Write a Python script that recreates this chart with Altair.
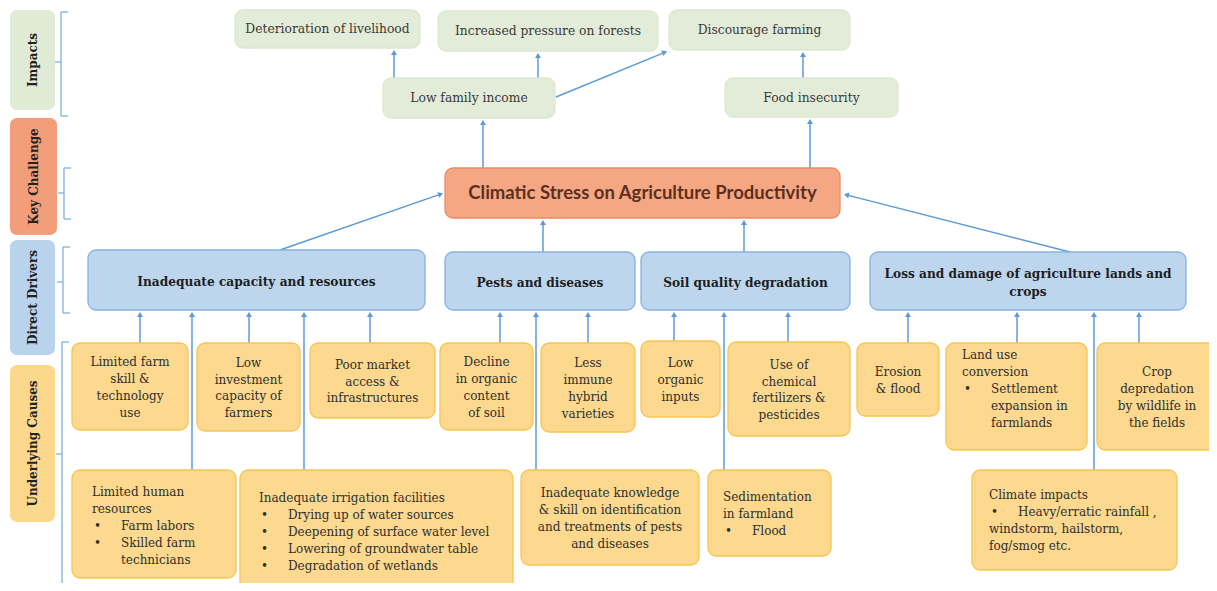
import math
import altair as alt
import pandas as pd

# ---------------- content ----------------
side_labels = ["Impacts", "Key Challenge", "Direct Drivers", "Underlying Causes"]
side_groups = ["impact", "challenge", "driver", "cause"]

node_texts = [
    "Deterioration of livelihood",
    "Increased pressure on forests",
    "Discourage farming",
    "Low family income",
    "Food insecurity",
    "Climatic Stress on Agriculture Productivity",
    "Inadequate capacity and resources",
    "Pests and diseases",
    "Soil quality degradation",
    "Loss and damage of agriculture lands and\ncrops",
    "Limited farm\nskill &\ntechnology\nuse",
    "Low\ninvestment\ncapacity of\nfarmers",
    "Poor market\naccess &\ninfrastructures",
    "Decline\nin organic\ncontent\nof soil",
    "Less\nimmune\nhybrid\nvarieties",
    "Low\norganic\ninputs",
    "Use of\nchemical\nfertilizers &\npesticides",
    "Erosion\n& flood",
    "",
    "Crop\ndepredation\nby wildlife in\nthe fields",
    "",
    "",
    "Inadequate knowledge\n& skill on identification\nand treatments of pests\nand diseases",
    "",
    "",
]
node_groups = (["impact"] * 5 + ["challenge"] + ["driver"] * 4 + ["cause"] * 15)

# bulleted (left aligned) boxes: node index -> lines (kind, text)
bullet_lines = {
    18: [("h", "Land use"), ("h", "conversion"), ("b", "Settlement"),
         ("i", "expansion in"), ("i", "farmlands")],
    20: [("h", "Limited human"), ("h", "resources"), ("b", "Farm labors"),
         ("b", "Skilled farm"), ("i", "technicians")],
    21: [("h", "Inadequate irrigation facilities"),
         ("b", "Drying up of water sources"),
         ("b", "Deepening  of surface water level"),
         ("b", "Lowering of groundwater table"),
         ("b", "Degradation of wetlands")],
    23: [("h", "Sedimentation"), ("h", "in farmland"), ("b", "Flood")],
    24: [("h", "Climate impacts"), ("b", "Heavy/erratic rainfall ,"),
         ("h", "windstorm, hailstorm,"), ("h", "fog/smog etc.")],
}

# ---------------- layout (pixel positions of the picture) ----------------
side_x1 = [10, 10, 10, 10]
side_x2 = [55, 57, 55, 55]
side_y1 = [10, 118, 240, 365]
side_y2 = [110, 235, 355, 522]

node_x1 = [235, 438, 669, 383, 725, 445, 88, 445, 641, 870,
           72, 197, 310, 440, 541, 641, 728, 857, 946, 1097,
           72, 240, 521, 708, 972]
node_x2 = [420, 658, 850, 555, 898, 840, 425, 635, 850, 1186,
           188, 300, 435, 533, 635, 720, 850, 939, 1087, 1217,
           236, 513, 699, 831, 1177]
node_y1 = [10, 11, 10, 78, 78, 168, 250, 252, 252, 252,
           343, 343, 343, 343, 343, 341, 342, 343, 343, 343,
           470, 470, 470, 470, 470]
node_y2 = [48, 51, 50, 118, 117, 218, 310, 310, 310, 310,
           430, 431, 418, 430, 432, 417, 436, 416, 450, 450,
           578, 595, 565, 556, 570]

bullet_anchor = {18: (962, 355), 20: (92, 492), 21: (259, 498),
                 23: (723, 497), 24: (989, 495)}

arrow_x1 = [394, 538, 556, 803, 483, 810, 280, 543, 744, 1070, 140, 192, 249,
            304, 370, 500, 536, 588, 674, 724, 788, 908, 1017, 1094, 1139]
arrow_y1 = [78, 78, 97, 78, 168, 168, 250, 252, 252, 252, 343, 470, 343, 470,
            343, 343, 470, 343, 341, 470, 342, 343, 343, 470, 343]
arrow_x2 = [394, 538, 668, 803, 483, 810, 444, 543, 744, 843, 140, 192, 249,
            304, 370, 500, 536, 588, 674, 724, 788, 908, 1017, 1094, 1139]
arrow_y2 = [49, 52, 51, 51, 119, 118, 193, 219, 219, 194, 311, 311, 311, 311,
            311, 311, 311, 311, 311, 311, 311, 311, 311, 311, 311]

bracket_x = [61, 64, 63, 62]
bracket_top = [12, 168, 247, 342]
bracket_bot = [116, 219, 313, 600]
bracket_mid = [62, 193, 282, 454]

# ---------------- styles ----------------
fills = {"impact": "#e2ecd8", "challenge": "#f5a784", "driver": "#bdd6ee", "cause": "#fcd98f"}
strokes = {"impact": "#dce8d0", "challenge": "#ec8b60", "driver": "#86b1e2", "cause": "#f6c553"}
side_fills = {"impact": "#e0ebd5", "challenge": "#f29e7a", "driver": "#b9d3ec", "cause": "#fcd88c"}
LINE = "#5b9bd5"
SERIF = "DejaVu Serif"
# per group: font, size, weight, colour, line height, vertical nudge
text_style = {
    "impact": (SERIF, 12.3, "normal", "#3a3a3a", 17, 0),
    "challenge": ("Lato", 18.5, "bold", "#5b3020", 17, 0),
    "driver": (SERIF, 12.2, "bold", "#1e1e1e", 18, 2),
    "cause": (SERIF, 12, "normal", "#2e2e2e", 16.7, 1),
}

W, H = 1201, 575
X0, Y0 = 8, 8


def xs():
    return alt.Scale(domain=[X0, X0 + W], nice=False, zero=False)


def ys():
    return alt.Scale(domain=[Y0, Y0 + H], nice=False, zero=False, reverse=True)


# ---------------- tables ----------------
side_df = pd.DataFrame({
    "label": side_labels, "x1": side_x1, "x2": side_x2, "y1": side_y1, "y2": side_y2,
    "col": [side_fills[g] for g in side_groups],
})
side_df["cx"] = (side_df.x1 + side_df.x2) / 2
side_df["cy"] = (side_df.y1 + side_df.y2) / 2

nodes = pd.DataFrame({
    "label": node_texts, "grp": node_groups,
    "x1": node_x1, "x2": node_x2, "y1": node_y1, "y2": node_y2,
})
nodes["col"] = nodes.grp.map(fills)
nodes["edge"] = nodes.grp.map(strokes)
nodes["cx"] = (nodes.x1 + nodes.x2) / 2
nodes["cy"] = (nodes.y1 + nodes.y2) / 2

# one row per centred text line
crow = []
for _, r in nodes.iterrows():
    if not r.label:
        continue
    _, _, _, _, lh, nudge = text_style[r.grp]
    parts = r.label.split("\n")
    n = len(parts)
    for i, p in enumerate(parts):
        crow.append({"grp": r.grp, "x": r.cx,
                     "y": r.cy + nudge + (i - (n - 1) / 2) * lh, "t": p})
center_text = pd.DataFrame(crow)

rows = []
for idx, lns in bullet_lines.items():
    tx, ty = bullet_anchor[idx]
    for i, (kind, txt) in enumerate(lns):
        y = ty + i * 17
        if kind == "h":
            rows.append({"x": tx, "y": y, "t": txt})
        elif kind == "b":
            rows.append({"x": tx + 2, "y": y, "t": "•"})
            rows.append({"x": tx + 29, "y": y, "t": txt})
        else:
            rows.append({"x": tx + 29, "y": y, "t": txt})
left_text = pd.DataFrame(rows)

arr = pd.DataFrame({"x1": arrow_x1, "y1": arrow_y1, "x2": arrow_x2, "y2": arrow_y2})
L = ((arr.x2 - arr.x1) ** 2 + (arr.y2 - arr.y1) ** 2) ** 0.5
ux, uy = (arr.x2 - arr.x1) / L, (arr.y2 - arr.y1) / L
arr["hx"] = arr.x2 - ux * 3.5
arr["hy"] = arr.y2 - uy * 3.5
arr["ang"] = [round((math.degrees(math.atan2(a, -b)) + 360) % 360, 1) for a, b in zip(ux, uy)]

seg = []
for bx, t, b, m in zip(bracket_x, bracket_top, bracket_bot, bracket_mid):
    seg.append({"x1": bx, "y1": t, "x2": bx, "y2": b})
    seg.append({"x1": bx, "y1": t, "x2": bx + 7, "y2": t})
    seg.append({"x1": bx, "y1": b, "x2": bx + 7, "y2": b})
    seg.append({"x1": bx - 6, "y1": m, "x2": bx, "y2": m})
seg_df = pd.DataFrame(seg)

# ---------------- layers ----------------
side_boxes = alt.Chart(side_df).mark_rect(cornerRadius=7).encode(
    x=alt.X("x1:Q", scale=xs(), axis=None), x2="x2:Q",
    y=alt.Y("y1:Q", scale=ys(), axis=None), y2="y2:Q",
    fill=alt.Fill("col:N", scale=None),
)
side_text = alt.Chart(side_df).mark_text(
    angle=270, font=SERIF, fontSize=12, fontWeight="bold", color="#222222",
    align="center", baseline="middle",
).encode(x=alt.X("cx:Q", scale=xs(), axis=None),
         y=alt.Y("cy:Q", scale=ys(), axis=None), text="label:N")

brackets = alt.Chart(seg_df).mark_rule(color="#7fb0df", strokeWidth=1.3).encode(
    x=alt.X("x1:Q", scale=xs(), axis=None), x2="x2:Q",
    y=alt.Y("y1:Q", scale=ys(), axis=None), y2="y2:Q"
)

boxes = alt.Chart(nodes).mark_rect(cornerRadius=8, strokeWidth=1.3).encode(
    x=alt.X("x1:Q", scale=xs(), axis=None), x2="x2:Q",
    y=alt.Y("y1:Q", scale=ys(), axis=None), y2="y2:Q",
    fill=alt.Fill("col:N", scale=None),
    stroke=alt.Stroke("edge:N", scale=None),
)

text_layers = []
for g, (font, size, weight, colour, _, _) in text_style.items():
    sub = center_text[center_text.grp == g]
    text_layers.append(
        alt.Chart(sub).mark_text(
            align="center", baseline="middle", font=font, fontSize=size,
            fontWeight=weight, color=colour,
        ).encode(x=alt.X("x:Q", scale=xs(), axis=None),
                 y=alt.Y("y:Q", scale=ys(), axis=None), text="t:N")
    )

t_left = alt.Chart(left_text).mark_text(
    align="left", baseline="middle", font=SERIF, fontSize=12, color="#2e2e2e"
).encode(x=alt.X("x:Q", scale=xs(), axis=None),
         y=alt.Y("y:Q", scale=ys(), axis=None), text="t:N")

lines = alt.Chart(arr).mark_rule(color=LINE, strokeWidth=1.5).encode(
    x=alt.X("x1:Q", scale=xs(), axis=None), x2="hx:Q",
    y=alt.Y("y1:Q", scale=ys(), axis=None), y2="hy:Q"
)

head_layers = []
for a in sorted(arr.ang.unique()):
    sub = arr[arr.ang == a]
    head_layers.append(
        alt.Chart(sub).mark_point(
            shape="triangle-up", filled=True, color=LINE, opacity=1, size=36,
            angle=float(a),
        ).encode(x=alt.X("hx:Q", scale=xs(), axis=None),
                 y=alt.Y("hy:Q", scale=ys(), axis=None))
    )

chart = alt.layer(
    brackets, side_boxes, side_text, lines, boxes, *head_layers,
    *text_layers, t_left,
).properties(
    width=W, height=H, padding=0,
    autosize=alt.AutoSizeParams(type="none"),
    background="white",
).configure_view(stroke=None)

chart.save("out.html", embed_options={"renderer": "svg", "actions": False})
